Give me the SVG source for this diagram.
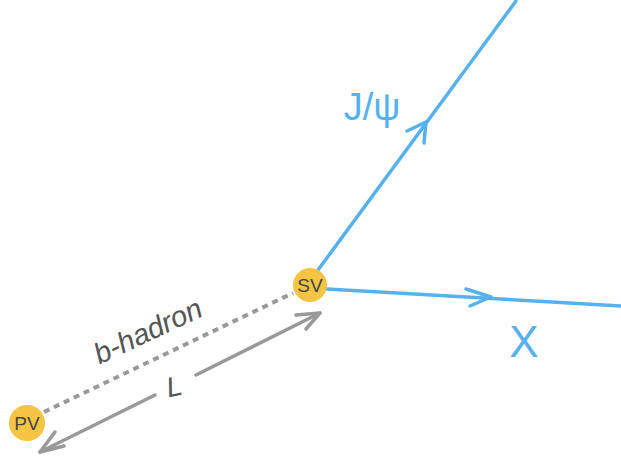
<svg xmlns="http://www.w3.org/2000/svg" width="621" height="464" viewBox="0 0 621 464">
<style>
.blue{stroke:#56b2ee;stroke-width:3.5;fill:none;stroke-linecap:round;stroke-linejoin:round}
.gray{stroke:#999;stroke-width:3.5;fill:none;stroke-linecap:round;stroke-linejoin:round}
.dash{stroke:#999;stroke-width:4;fill:none;stroke-dasharray:6 5}
.vtx{fill:#f5c444}
.vt{font-family:"Liberation Sans",sans-serif;font-size:19px;fill:#444;text-anchor:middle}
.bl{font-family:"Liberation Sans",sans-serif;fill:#56b2ee;text-anchor:middle}
.gl{font-family:"Liberation Sans",sans-serif;fill:#555;text-anchor:middle;font-style:italic}
</style>
<rect width="621" height="464" fill="#fff"/>
<g id="connectors">
<path class="blue" d="M318 270 L516 1"/>
<path class="blue" d="M407 131 L426 122 L424 143"/>
<path class="blue" d="M327 289 L621 306"/>
<path class="blue" d="M466 289 L491 297 L470 306"/>
<path class="dash" d="M44 412 L293 293"/>
<path class="gray" d="M40 452 L155 395 M196 375 L320 313"/>
<path class="gray" d="M64 446 L40 452 L55 432"/>
<path class="gray" d="M296 315 L320 313 L306 329"/>
</g>
<g id="labels">
<text class="bl" x="372" y="120" font-size="38">J/ψ</text>
<text class="bl" x="524" y="357" font-size="44">X</text>
<text class="gl" x="0" y="0" font-size="29" transform="translate(152 340) rotate(-25)">b-hadron</text>
<text class="gl" x="0" y="0" font-size="28" transform="translate(176 396) rotate(-12)">L</text>
</g>
<g id="SV">
<circle class="vtx" cx="310" cy="285" r="17"/>
<text class="vt" x="310" y="292">SV</text>
</g>
<g id="PV">
<circle class="vtx" cx="27" cy="423" r="18"/>
<text class="vt" x="27" y="430">PV</text>
</g>
</svg>
